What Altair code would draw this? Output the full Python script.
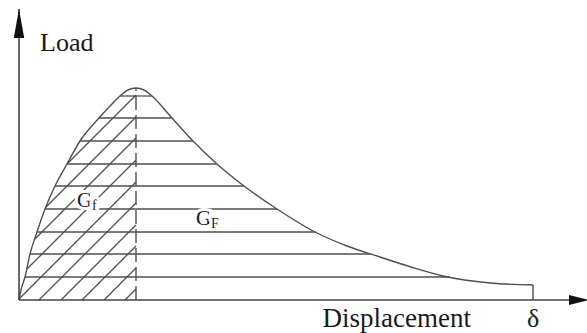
import altair as alt
import numpy as np
import pandas as pd

# Load–displacement curve (displacement, load) measured from the origin, arbitrary units
curve_disp = [0, 2, 6, 11, 18, 26, 36, 48, 61, 80, 93, 101, 109, 117,
              125, 133, 153, 174, 198, 225, 258, 296, 328, 361, 392, 424, 471, 514]
curve_load = [0, 10, 23, 46, 68, 91, 114, 136, 159, 182, 196, 204, 210, 212,
              210, 204, 182, 159, 136, 114, 91, 68, 54, 43, 33, 24, 17, 15]

# Horizontal hatch levels (whole area, G_F) and 45° hatch offsets (pre-peak area, G_f)
hatch_levels = [23, 46, 68, 91, 114, 136, 159, 182, 204]
diag_offsets = [-88, -66, -45, -23, -1, 20, 42, 63, 85, 106]

# Axis extents
x_axis_end = 562
y_axis_end = 291

LINE = "#4f4f4f"
INK = "#1a1a1a"
FONT = "'Liberation Serif', 'Times New Roman', Times, 'DejaVu Serif', serif"

xs = alt.Scale(domain=[-19, 568], nice=False, zero=False)
ys = alt.Scale(domain=[-33, 300], nice=False, zero=False)

d = np.array(curve_disp, dtype=float)
l = np.array(curve_load, dtype=float)
ipk = int(np.argmax(l))
left_d, left_l = d[: ipk + 1], l[: ipk + 1]
right_d, right_l = d[ipk:], l[ipk:]
peak_x, peak_y = d[ipk], l[ipk]

# horizontal hatch segments between the rising and falling branches
h_rows = []
for lv in hatch_levels:
    x1 = np.interp(lv, left_l, left_d)
    x2 = np.interp(lv, right_l[::-1], right_d[::-1])
    h_rows.append(dict(x=x1, x2=x2, y=lv, y2=lv))

# diagonal hatch segments clipped to the area left of the peak
grid = np.linspace(0, peak_x, 4000)
fy = np.interp(grid, left_d, left_l)
for c in diag_offsets:
    yl = grid - c
    inside = (yl >= 0) & (yl <= fy)
    if inside.any():
        idx = np.where(inside)[0]
        a, b = idx[0], idx[-1]
        h_rows.append(dict(x=grid[a], x2=grid[b], y=yl[a], y2=yl[b]))

segs = pd.DataFrame(h_rows)

curve_df = pd.DataFrame({"disp": curve_disp, "load": curve_load, "i": range(len(curve_disp))})

hatch = alt.Chart(segs).mark_rule(color=LINE, strokeWidth=1.3).encode(
    x=alt.X("x:Q", scale=xs, axis=None),
    x2="x2:Q",
    y=alt.Y("y:Q", scale=ys, axis=None),
    y2="y2:Q",
)

curve = alt.Chart(curve_df).mark_line(color=LINE, strokeWidth=1.4, interpolate="monotone").encode(
    x=alt.X("disp:Q", scale=xs, axis=None),
    y=alt.Y("load:Q", scale=ys, axis=None),
    order="i:Q",
)

# closing drop at the end of the curve and the dashed line under the peak
drop_df = pd.DataFrame({"x": [d[-1]], "y": [0.0], "y2": [l[-1]]})
peak_df = pd.DataFrame({"x": [peak_x], "y": [0.0], "y2": [peak_y]})
end_drop = alt.Chart(drop_df).mark_rule(color=LINE, strokeWidth=1.4).encode(
    x=alt.X("x:Q", scale=xs, axis=None), y=alt.Y("y:Q", scale=ys, axis=None), y2="y2:Q"
)
peak_line = alt.Chart(peak_df).mark_rule(
    color=LINE, strokeWidth=1.4, strokeDash=[14, 5]
).encode(x=alt.X("x:Q", scale=xs, axis=None), y=alt.Y("y:Q", scale=ys, axis=None), y2="y2:Q")

# axes with arrow heads
axes_df = pd.DataFrame({"x": [0, 0], "x2": [x_axis_end, 0], "y": [0, 0], "y2": [0, y_axis_end]})
axes = alt.Chart(axes_df).mark_rule(color="#444444", strokeWidth=1.6).encode(
    x=alt.X("x:Q", scale=xs, axis=None), x2="x2:Q",
    y=alt.Y("y:Q", scale=ys, axis=None), y2="y2:Q",
)
up_head = alt.Chart(pd.DataFrame({"x": [0], "y": [y_axis_end - 14.5]})).mark_point(
    shape="M0,-1L0.36,1L-0.36,1Z", size=841, filled=True, color="#111111", opacity=1
).encode(x=alt.X("x:Q", scale=xs, axis=None), y=alt.Y("y:Q", scale=ys, axis=None))
right_head = alt.Chart(pd.DataFrame({"x": [x_axis_end - 2], "y": [0]})).mark_point(
    shape="M1,0L-1,-0.5L-1,0.5Z", size=400, filled=True, color="#111111", opacity=1
).encode(x=alt.X("x:Q", scale=xs, axis=None), y=alt.Y("y:Q", scale=ys, axis=None))


def label(text, x, y, size, align="left", halo=False):
    df = pd.DataFrame({"t": [text], "x": [x], "y": [y]})
    enc = dict(x=alt.X("x:Q", scale=xs, axis=None), y=alt.Y("y:Q", scale=ys, axis=None), text="t:N")
    layers = []
    if halo:
        layers.append(alt.Chart(df).mark_text(
            font=FONT, fontSize=size, align=align, baseline="alphabetic",
            color="white", stroke="white", strokeWidth=6
        ).encode(**enc))
    layers.append(alt.Chart(df).mark_text(
        font=FONT, fontSize=size, align=align, baseline="alphabetic", color=INK
    ).encode(**enc))
    return layers


texts = []
texts += label("Load", 21, 249, 26)
texts += label("Displacement", 452, -27, 27, align="right")
texts += label("δ", 514, -27, 26, align="center")
texts += label("G", 58, 93, 21, halo=True)
texts += label("f", 73, 90, 14, halo=True)
texts += label("G", 177, 75, 21, halo=True)
texts += label("F", 192, 72, 14, halo=True)

chart = alt.layer(
    hatch, curve, end_drop, peak_line, axes, up_head, right_head, *texts
).properties(
    width=587, height=333, autosize=alt.AutoSizeParams(type="none"), padding=0,
    background="white",
).configure_view(stroke=None)

chart.save("out.html", embed_options={"renderer": "svg", "actions": False})
